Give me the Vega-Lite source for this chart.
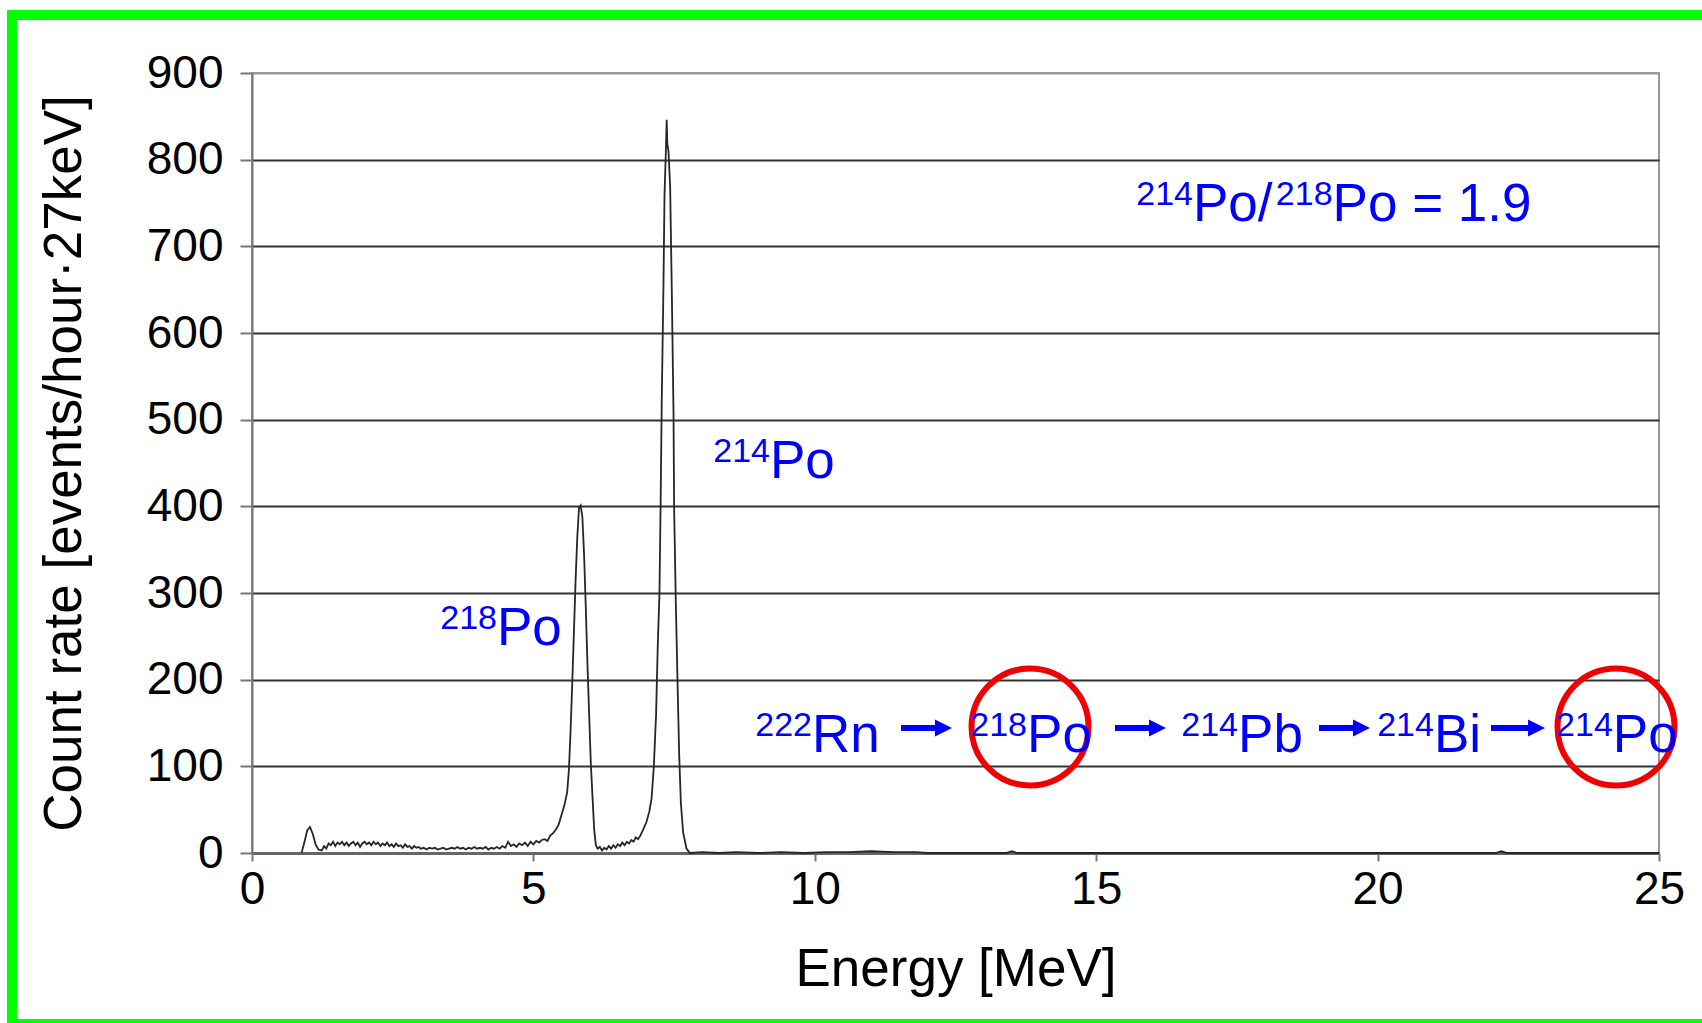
{
  "$schema": "https://vega.github.io/schema/vega-lite/v6.json",
  "width": 1407,
  "height": 780,
  "autosize": "none",
  "padding": {"left": 252, "top": 73, "right": 43, "bottom": 170},
  "background": "white",
  "config": {
    "font": "Liberation Sans",
    "view": {"stroke": "#999999", "strokeWidth": 2}
  },
  "datasets": {
    "spectrum": [
      {"E": 0.88, "c": 0}, {"E": 0.93, "c": 12}, {"E": 0.98, "c": 26}, {"E": 1.03, "c": 30}, {"E": 1.08, "c": 22},
      {"E": 1.13, "c": 10}, {"E": 1.18, "c": 4}, {"E": 1.24, "c": 3}, {"E": 1.28, "c": 8}, {"E": 1.32, "c": 5},
      {"E": 1.36, "c": 11}, {"E": 1.40, "c": 9}, {"E": 1.44, "c": 13}, {"E": 1.48, "c": 8}, {"E": 1.52, "c": 12},
      {"E": 1.56, "c": 10}, {"E": 1.60, "c": 13}, {"E": 1.64, "c": 9}, {"E": 1.68, "c": 12}, {"E": 1.72, "c": 8},
      {"E": 1.76, "c": 11}, {"E": 1.80, "c": 13}, {"E": 1.84, "c": 9}, {"E": 1.88, "c": 12}, {"E": 1.92, "c": 7},
      {"E": 1.96, "c": 11}, {"E": 2.00, "c": 13}, {"E": 2.04, "c": 10}, {"E": 2.08, "c": 12}, {"E": 2.12, "c": 9},
      {"E": 2.16, "c": 13}, {"E": 2.20, "c": 10}, {"E": 2.24, "c": 12}, {"E": 2.28, "c": 8}, {"E": 2.32, "c": 11},
      {"E": 2.36, "c": 9}, {"E": 2.40, "c": 12}, {"E": 2.44, "c": 8}, {"E": 2.48, "c": 10}, {"E": 2.52, "c": 7},
      {"E": 2.56, "c": 11}, {"E": 2.60, "c": 8}, {"E": 2.64, "c": 9}, {"E": 2.68, "c": 6}, {"E": 2.72, "c": 10},
      {"E": 2.76, "c": 7}, {"E": 2.80, "c": 8}, {"E": 2.84, "c": 5}, {"E": 2.88, "c": 8}, {"E": 2.92, "c": 6},
      {"E": 2.96, "c": 7}, {"E": 3.00, "c": 5}, {"E": 3.05, "c": 6}, {"E": 3.10, "c": 4}, {"E": 3.15, "c": 6},
      {"E": 3.20, "c": 5}, {"E": 3.25, "c": 6}, {"E": 3.30, "c": 4}, {"E": 3.35, "c": 5}, {"E": 3.40, "c": 6},
      {"E": 3.45, "c": 4}, {"E": 3.50, "c": 5}, {"E": 3.55, "c": 6}, {"E": 3.60, "c": 5}, {"E": 3.65, "c": 7},
      {"E": 3.70, "c": 5}, {"E": 3.75, "c": 6}, {"E": 3.80, "c": 4}, {"E": 3.85, "c": 6}, {"E": 3.90, "c": 5},
      {"E": 3.95, "c": 7}, {"E": 4.00, "c": 5}, {"E": 4.05, "c": 6}, {"E": 4.10, "c": 5}, {"E": 4.15, "c": 7},
      {"E": 4.20, "c": 4}, {"E": 4.25, "c": 6}, {"E": 4.30, "c": 5}, {"E": 4.35, "c": 7}, {"E": 4.40, "c": 5},
      {"E": 4.45, "c": 8}, {"E": 4.50, "c": 6}, {"E": 4.55, "c": 13}, {"E": 4.60, "c": 8}, {"E": 4.65, "c": 10},
      {"E": 4.70, "c": 7}, {"E": 4.75, "c": 11}, {"E": 4.80, "c": 9}, {"E": 4.85, "c": 12}, {"E": 4.90, "c": 8},
      {"E": 4.95, "c": 13}, {"E": 5.00, "c": 10}, {"E": 5.05, "c": 14}, {"E": 5.10, "c": 12}, {"E": 5.15, "c": 15},
      {"E": 5.20, "c": 16}, {"E": 5.25, "c": 14}, {"E": 5.30, "c": 20}, {"E": 5.35, "c": 23}, {"E": 5.40, "c": 27},
      {"E": 5.45, "c": 33}, {"E": 5.50, "c": 44}, {"E": 5.55, "c": 55}, {"E": 5.60, "c": 70}, {"E": 5.63, "c": 95},
      {"E": 5.66, "c": 140}, {"E": 5.69, "c": 195}, {"E": 5.72, "c": 255}, {"E": 5.75, "c": 315}, {"E": 5.78, "c": 365},
      {"E": 5.81, "c": 398}, {"E": 5.84, "c": 401}, {"E": 5.87, "c": 388}, {"E": 5.90, "c": 345}, {"E": 5.93, "c": 285},
      {"E": 5.96, "c": 219}, {"E": 5.99, "c": 161}, {"E": 6.02, "c": 104}, {"E": 6.05, "c": 65}, {"E": 6.08, "c": 27},
      {"E": 6.11, "c": 9}, {"E": 6.14, "c": 5}, {"E": 6.18, "c": 7}, {"E": 6.22, "c": 3}, {"E": 6.26, "c": 6},
      {"E": 6.30, "c": 4}, {"E": 6.34, "c": 8}, {"E": 6.38, "c": 5}, {"E": 6.42, "c": 9}, {"E": 6.46, "c": 6},
      {"E": 6.50, "c": 10}, {"E": 6.54, "c": 8}, {"E": 6.58, "c": 12}, {"E": 6.62, "c": 9}, {"E": 6.66, "c": 13},
      {"E": 6.70, "c": 11}, {"E": 6.74, "c": 15}, {"E": 6.78, "c": 13}, {"E": 6.82, "c": 18}, {"E": 6.86, "c": 16},
      {"E": 6.90, "c": 20}, {"E": 6.95, "c": 27}, {"E": 7.01, "c": 36}, {"E": 7.06, "c": 48}, {"E": 7.10, "c": 63},
      {"E": 7.14, "c": 100}, {"E": 7.18, "c": 160}, {"E": 7.21, "c": 240}, {"E": 7.24, "c": 300}, {"E": 7.26, "c": 400},
      {"E": 7.28, "c": 520}, {"E": 7.31, "c": 650}, {"E": 7.33, "c": 760}, {"E": 7.355, "c": 812}, {"E": 7.368, "c": 846},
      {"E": 7.38, "c": 818}, {"E": 7.40, "c": 810}, {"E": 7.43, "c": 768}, {"E": 7.46, "c": 645}, {"E": 7.49, "c": 505},
      {"E": 7.50, "c": 400}, {"E": 7.53, "c": 290}, {"E": 7.56, "c": 200}, {"E": 7.59, "c": 114}, {"E": 7.62, "c": 58},
      {"E": 7.66, "c": 24}, {"E": 7.72, "c": 5}, {"E": 7.78, "c": 0}, {"E": 8.0, "c": 1}, {"E": 8.3, "c": 0},
      {"E": 8.6, "c": 1}, {"E": 9.0, "c": 0}, {"E": 9.4, "c": 1}, {"E": 9.8, "c": 0}, {"E": 10.2, "c": 1},
      {"E": 10.6, "c": 1}, {"E": 11.0, "c": 2}, {"E": 11.4, "c": 1}, {"E": 11.8, "c": 1}, {"E": 12.0, "c": 0},
      {"E": 13.4, "c": 0}, {"E": 13.5, "c": 2}, {"E": 13.6, "c": 0}, {"E": 22.1, "c": 0}, {"E": 22.2, "c": 2},
      {"E": 22.3, "c": 0}, {"E": 25.0, "c": 0}
    ],
    "labels": [
      {"x": 16.72, "y": 729.2, "sup": "214", "main": "Po/"},
      {"x": 19.2, "y": 729.2, "sup": "218", "main": "Po = 1.9"},
      {"x": 9.204, "y": 432.7, "sup": "214", "main": "Po"},
      {"x": 4.353, "y": 240.0, "sup": "218", "main": "Po"},
      {"x": 9.95, "y": 116.5, "sup": "222", "main": "Rn"},
      {"x": 13.771, "y": 116.5, "sup": "218", "main": "Po"},
      {"x": 17.52, "y": 116.5, "sup": "214", "main": "Pb"},
      {"x": 21.0, "y": 116.5, "sup": "214", "main": "Bi"},
      {"x": 24.18, "y": 116.5, "sup": "214", "main": "Po"}
    ],
    "arrows": [
      {"x1": 11.532, "x2": 12.438},
      {"x1": 15.334, "x2": 16.24},
      {"x1": 18.959, "x2": 19.865},
      {"x1": 22.015, "x2": 22.975}
    ],
    "circles": [
      {"x": 13.824},
      {"x": 24.236}
    ]
  },
  "layer": [
    {
      "data": {"name": "spectrum"},
      "mark": {"type": "line", "color": "#262626", "strokeWidth": 1.8},
      "encoding": {
        "x": {
          "field": "E", "type": "quantitative",
          "scale": {"domain": [0, 25], "nice": false, "zero": false},
          "axis": {
            "title": "Energy [MeV]", "values": [0, 5, 10, 15, 20, 25], "format": "d",
            "labelFontSize": 46, "labelColor": "#000000", "labelFont": "Liberation Sans",
            "labelPadding": 6, "labelFlush": false,
            "tickSize": 8, "tickColor": "#777777", "tickWidth": 2,
            "domainColor": "#666666", "domainWidth": 3,
            "grid": false,
            "titleFont": "Liberation Sans", "titleFontSize": 53, "titleFontWeight": "normal",
            "titleColor": "#000000", "titlePadding": 31
          }
        },
        "y": {
          "field": "c", "type": "quantitative",
          "scale": {"domain": [0, 900], "nice": false, "zero": false},
          "axis": {
            "title": "Count rate [events/hour·27keV]", "format": "d",
            "values": [0, 100, 200, 300, 400, 500, 600, 700, 800, 900],
            "labelFontSize": 46, "labelColor": "#000000", "labelFont": "Liberation Sans",
            "labelPadding": 17, "tickSize": 12, "tickColor": "#777777", "tickWidth": 2,
            "domainColor": "#777777", "domainWidth": 2,
            "grid": true, "gridColor": {"condition": {"test": "datum.value === 900", "value": "#999999"}, "value": "#333333"}, "gridWidth": 2,
            "titleFont": "Liberation Sans", "titleFontSize": 53, "titleFontWeight": "normal",
            "titleColor": "#000000", "titlePadding": 55
          }
        }
      }
    },
    {
      "data": {"values": [{}]},
      "mark": {"type": "rect", "fillOpacity": 0, "stroke": "#00ff00", "strokeWidth": 10, "clip": false},
      "encoding": {
        "x": {"datum": -4.264, "type": "quantitative", "scale": {"domain": [0, 25], "nice": false, "zero": false}},
        "x2": {"datum": 26.3},
        "y": {"datum": 966.9, "type": "quantitative", "scale": {"domain": [0, 900], "nice": false, "zero": false}},
        "y2": {"datum": -197.3}
      }
    },
    {
      "data": {"name": "arrows"},
      "mark": {"type": "rule", "color": "#0000ff", "strokeWidth": 6, "x2Offset": -12},
      "encoding": {
        "x": {"field": "x1", "type": "quantitative", "scale": {"domain": [0, 25], "nice": false, "zero": false}},
        "x2": {"field": "x2"},
        "y": {"datum": 144.2, "type": "quantitative", "scale": {"domain": [0, 900], "nice": false, "zero": false}}
      }
    },
    {
      "data": {"name": "arrows"},
      "mark": {"type": "point", "shape": "M-1,-1L1,0L-1,1Z", "filled": true, "color": "#0000ff", "opacity": 1, "size": 289, "xOffset": -8.5},
      "encoding": {
        "x": {"field": "x2", "type": "quantitative", "scale": {"domain": [0, 25], "nice": false, "zero": false}},
        "y": {"datum": 144.2, "type": "quantitative", "scale": {"domain": [0, 900], "nice": false, "zero": false}}
      }
    },
    {
      "data": {"name": "circles"},
      "mark": {"type": "point", "shape": "circle", "filled": false, "color": "#f00000", "strokeWidth": 6, "opacity": 1, "size": 13685},
      "encoding": {
        "x": {"field": "x", "type": "quantitative", "scale": {"domain": [0, 25], "nice": false, "zero": false}},
        "y": {"datum": 145.4, "type": "quantitative", "scale": {"domain": [0, 900], "nice": false, "zero": false}}
      }
    },
    {
      "data": {"name": "labels"},
      "mark": {"type": "text", "align": "right", "baseline": "alphabetic", "fontSize": 34, "dy": -16, "color": "#0000ff", "font": "Liberation Sans"},
      "encoding": {
        "x": {"field": "x", "type": "quantitative", "scale": {"domain": [0, 25], "nice": false, "zero": false}},
        "y": {"field": "y", "type": "quantitative", "scale": {"domain": [0, 900], "nice": false, "zero": false}},
        "text": {"field": "sup"}
      }
    },
    {
      "data": {"name": "labels"},
      "mark": {"type": "text", "align": "left", "baseline": "alphabetic", "fontSize": 53, "color": "#0000ff", "font": "Liberation Sans"},
      "encoding": {
        "x": {"field": "x", "type": "quantitative", "scale": {"domain": [0, 25], "nice": false, "zero": false}},
        "y": {"field": "y", "type": "quantitative", "scale": {"domain": [0, 900], "nice": false, "zero": false}},
        "text": {"field": "main"}
      }
    }
  ]
}
